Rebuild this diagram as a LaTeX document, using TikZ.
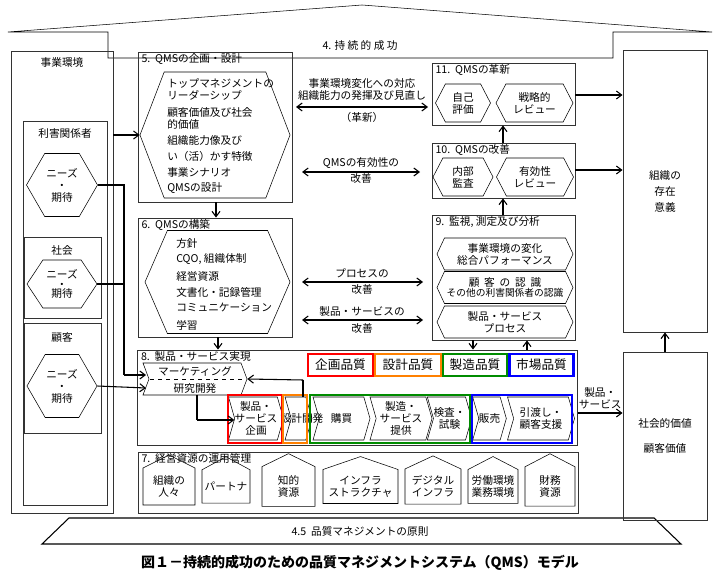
\documentclass[tikz,border=0pt]{standalone}
\usepackage{fontspec}
\setmainfont{Noto Sans CJK JP}
\usetikzlibrary{shapes.symbols}
\usetikzlibrary{positioning}
\usetikzlibrary{arrows.meta}
\tikzset{
    sz/.style 2 args = {minimum width=#1*0.75pt, minimum height=#2*0.75pt},
    mybox/.style = {draw=black!80, line width=0.7pt, inner sep=0pt, align=center},
    myhex/.style = {draw=black, thin, signal, signal to=west and east, inner sep=0pt, align=center},
    mychev/.style = {draw=black, thin, signal, signal from=west, signal to=east, signal pointer angle=148, inner sep=0pt, align=center},
    myhouse/.style = {draw=black, thin, signal, signal to=north, inner sep=0pt, align=center},
    myqual/.style = {draw, line width=1.6pt, inner sep=0pt},
    mytitle/.style = {anchor=north west, inner sep=1pt},
    myarr/.style = {-{Straight Barb[length=4pt,width=6pt]}, thick},
    mydarr/.style = {{Straight Barb[length=4pt,width=6pt]}-{Straight Barb[length=4pt,width=6pt]}, thick},
    myline/.style = {thick}
}

\begin{document}
\begin{tikzpicture}[x=0.75pt, y=-0.75pt, font=\fontsize{8}{9}\selectfont]
  \useasboundingbox (0,0) rectangle (720,580);
  % roof and base
  \draw (8,32) -- (362,5) -- (712,32) -- (613,32) -- (613,58) -- (108,58) -- (108,32) -- cycle;
  \node (roof) at (360,45) {4. 持\ 続\ 的\ 成\ 功};
  \draw[line width=0.8pt] (69,518) -- (654,518) -- (681,544) -- (42,544) -- cycle;
  \node (base) at (360,531) {4.5\ \ 品質マネジメントの原則};
  \node (caption) at (360,563) {\fontsize{10.5}{12}\selectfont\bfseries 図１－持続的成功のための品質マネジメントシステム（QMS）モデル};

  % business environment
  \node[mybox, sz={102}{462}] (env) at (62,282) {};
  \node (envt) at (62,62) {事業環境};
  \node[mybox, sz={84}{384}] (stake) at (65,313) {};
  \node (staket) at (65,133) {利害関係者};
  \node[myhex, sz={71}{63}, signal pointer angle=120] (need1) at (62,185) {ニーズ\\・\\期待};
  \node[mybox, sz={77}{81}] (soc) at (62.5,278) {};
  \node (soct) at (62,250) {社会};
  \node[myhex, sz={70}{48}, signal pointer angle=113] (need2) at (62,284) {ニーズ\\[-2pt]・\\[-2pt]期待};
  \node[mybox, sz={77}{110}] (cust) at (62.5,378) {};
  \node (custt) at (62,337) {顧客};
  \node[myhex, sz={70}{63}, signal pointer angle=120] (need3) at (62,386) {ニーズ\\・\\期待};

  % 5 and 6
  \node[mybox, sz={154}{150}] (plan) at (215,127) {};
  \node[mytitle] (plant) at (plan.north west) {\ 5.\ \ QMSの企画・設計};
  \node[myhex, sz={150}{126}, signal pointer angle=138] (planh) at (215,135) {};
  \foreach \y/\t in {83/トップマネジメントの, 95/リーダーシップ, 112/顧客価値及び社会, 124/的価値,
                     140/組織能力像及び, 156/い（活）かす特徴, 172/事業シナリオ, 188/QMSの設計}
    \node[anchor=west, inner sep=0pt] at (167,\y) {\t};
  \node[mybox, sz={154}{119}] (build) at (215,277.5) {};
  \node[mytitle] (buildt) at (build.north west) {\ 6.\ \ QMSの構築};
  \node[myhex, sz={145}{103}, signal pointer angle=133] (buildh) at (217.5,282) {};
  \foreach \y/\t in {243/方針, 259/{CQO, 組織体制}, 276/経営資源, 292/文書化・記録管理, 308/コミュニケーション, 325/学習}
    \node[anchor=west, inner sep=0pt] at (176,\y) {\t};

  % 11, 10, 9
  \node[mybox, sz={143}{62}] (innov) at (503.5,94) {};
  \node[mytitle] (innovt) at (innov.north west) {\ 11.\ \ QMSの革新};
  \node[myhex, sz={55}{38}, signal pointer angle=125] (self) at (463,103) {自己\\評価};
  \node[myhex, sz={77}{38}, signal pointer angle=125] (strat) at (534.5,103) {戦略的\\レビュー};
  \node[mybox, sz={143}{55}] (impr) at (503.5,170.5) {};
  \node[mytitle] (imprt) at (impr.north west) {\ 10.\ \ QMSの改善};
  \node[myhex, sz={60}{38}, signal pointer angle=125] (audit) at (463,177) {内部\\監査};
  \node[myhex, sz={77}{38}, signal pointer angle=125] (eff) at (535,177) {有効性\\レビュー};
  \node[mybox, sz={143}{125}] (mon) at (503.5,277.5) {};
  \node[mytitle] (mont) at (mon.north west) {\ 9.\ \ 監視, 測定及び分析};
  \node[myhex, sz={136}{32}, signal pointer angle=130] (mon1) at (505,254) {事業環境の変化\\総合パフォーマンス};
  \node[myhex, sz={136}{32}, signal pointer angle=130] (mon2) at (505,287.5) {顧\ \ 客\ \ の\ \ 認\ \ 識\\[-1pt]{\fontsize{7.3}{8}\selectfont その他の利害関係者の認識}};
  \node[myhex, sz={136}{32}, signal pointer angle=130] (mon3) at (505,322) {製品・サービス\\プロセス};

  % right side
  \node[mybox, sz={84}{282}] (purp) at (665,191) {組織の\\[3pt]存在\\[3pt]意義};
  \node[mybox, sz={84}{168}] (val) at (665,436) {社会的価値\\[10pt]顧客価値};

  % 8
  \node[mybox, sz={440}{95}] (real) at (357.5,397.5) {};
  \node[mytitle] (realt) at (real.north west) {\ 8.\ \ 製品・サービス実現};
  \begin{scope}[font=\fontsize{9.5}{10}\selectfont]
  \node[myqual, draw=red, sz={65}{22}] (q1) at (340.5,365) {企画品質};
  \node[myqual, draw=orange, sz={66}{22}] (q2) at (408,365) {設計品質};
  \node[myqual, draw=green!55!black, sz={64}{22}] (q3) at (475,365) {製造品質};
  \node[myqual, draw=blue, sz={64}{22}] (q4) at (541.5,365) {市場品質};
  \end{scope}
  \node[mychev, signal pointer angle=139, sz={104}{32}] (mkt) at (195,379) {};
  \draw[dashed] (150,379) -- (243,379);
  \node (mktt) at (195,371) {マーケティング};
  \node (rnd) at (195,388) {研究開発};
  \node[mychev, sz={52}{43}] (p1) at (256,418.5) {製品・\\サービス\\企画};
  \node[mychev, sz={27}{43}] (p2) at (298.5,418.5) {};
  \node (p2t) at (302,418.5) {設計\\開発};
  \node[mychev, sz={57}{43}] (p3) at (341.5,418.5) {購買};
  \node[mychev, sz={62}{43}] (p4) at (401,418.5) {製造・\\サービス\\提供};
  \node[mychev, sz={35}{43}] (p5) at (449.5,418.5) {検査・\\試験};
  \node[mychev, sz={31}{43}] (p6) at (489.5,418.5) {販売};
  \node[mychev, sz={67}{43}] (p7) at (541,418.5) {引渡し・\\顧客支援};
  \node[myqual, draw=red, sz={54}{48}] (f1) at (255,419) {};
  \node[myqual, draw=orange, sz={24}{48}] (f2) at (295,419) {};
  \node[myqual, draw=green!55!black, sz={160}{48}] (f3) at (390,419) {};
  \node[myqual, draw=blue, sz={100}{48}] (f4) at (522,419) {};

  % 7
  \node[mybox, sz={440}{61}] (res) at (358,482.5) {};
  \node[mytitle] (rest) at (res.north west) {\ 7.\ \ 経営資源の運用管理};
  \foreach \n/\x/\w/\a/\t in {r1/169/52/127/組織の\\人々, r2/226/48/123/パートナ, r3/288.5/53/128/知的\\資源,
                              r4/360.5/75/142/インフラ\\ストラクチャ, r5/433/56/130/デジタル\\インフラ,
                              r6/493/50/125/労働環境\\業務環境, r7/550/50/125/財務\\資源}
    \node[myhouse, sz={\w}{45}, signal pointer angle=\a] (\n) at (\x,486.5) {\t};

  % connectors
  \draw[myline] (need1.east) -- (124,185) coordinate (c1) -- (124,375) coordinate (c2);
  \draw[myarr] (c2) -- (146,375);
  \draw[myline] (need2.east) -- (124,284);
  \draw[myarr] (need3.east) -- (146,388);
  \draw[myarr] (113,135) -- (planh.west);
  \draw[myarr] (plan.south -| 216,0) -- (build.north -| 216,0);
  \draw[myarr] (build.south -| 218,0) -- (real.north -| 218,0);
  \draw[myarr] (mon.north -| 503,0) -- (impr.south -| 503,0);
  \draw[myarr] (impr.north -| 503,0) -- (innov.south -| 503,0);
  \draw[myarr] (mon.south -| 473,0) -- (real.north -| 473,0);
  \draw[myarr] (real.north -| 527,0) -- (mon.south -| 527,0);
  \draw[myarr] (innov.east |- 0,95) -- (purp.west |- 0,95);
  \draw[myarr] (impr.east |- 0,170) -- (purp.west |- 0,170);
  \draw[myarr] (val.north) -- (purp.south);
  \draw[myarr] (real.east |- 0,413) -- node[above=-1pt, align=center] {製品・\\サービス} (val.west |- 0,413);
  \draw[myline] (303,397) -- (303,380) coordinate (c3);
  \draw[myarr] (c3) -- (mkt.east);
  \draw[myline] (197,395) -- (197,420) coordinate (c4);
  \draw[myarr] (c4) -- (p1.west |- 0,420);
  \draw[mydarr] (296,107) coordinate (a1) -- (428,107) coordinate (b1);
  \node[align=center] (t1) at (362,89) {事業環境変化への対応\\組織能力の発揮及び見直し};
  \node (t1b) at (362,117) {（革新）};
  \draw[mydarr] (302,172) coordinate (a2) -- (420,172) coordinate (b2);
  \node (t2) at (361,163) {QMSの有効性の};
  \node (t2b) at (361,178) {改善};
  \draw[mydarr] (302,282) coordinate (a3) -- (423,282) coordinate (b3);
  \node (t3) at (362,273) {プロセスの};
  \node (t3b) at (362,289) {改善};
  \draw[mydarr] (302,320) coordinate (a4) -- (423,320) coordinate (b4);
  \node (t4) at (362,311) {製品・サービスの};
  \node (t4b) at (362,328) {改善};
\end{tikzpicture}
\end{document}
